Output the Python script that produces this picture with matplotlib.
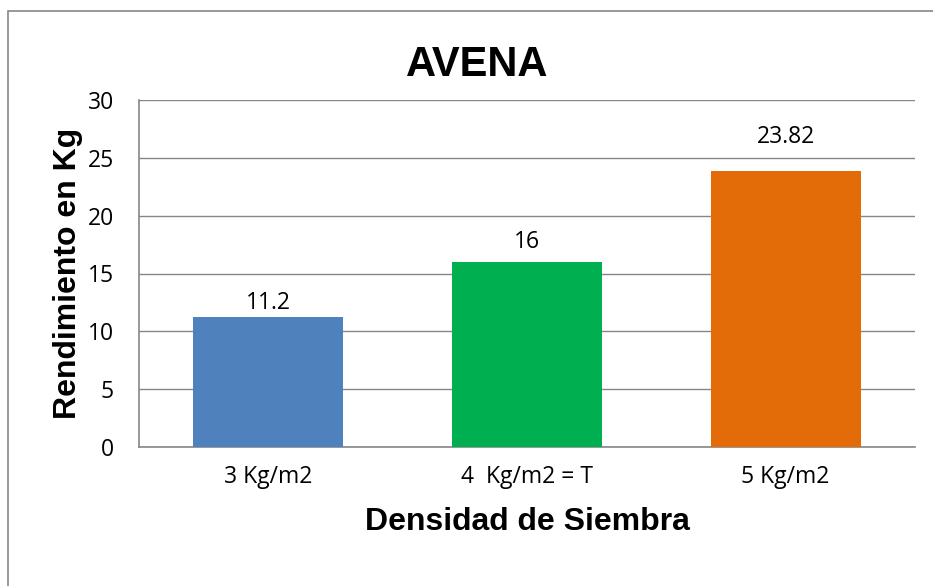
import matplotlib
matplotlib.use("Agg")
import matplotlib.pyplot as plt
from matplotlib.patches import Rectangle

# data
categorias = ["3 Kg/m2", "4  Kg/m2 = T", "5 Kg/m2"]
rendimiento = [11.2, 16, 23.82]
etiquetas = ["11.2", "16", "23.82"]
colores = ["#4F81BD", "#00B050", "#E36C09"]
yticks = [0, 5, 10, 15, 20, 25, 30]
# label offsets above the bars (points) - the labels sit unevenly in the original
offsets = [1.5, 5.5, 16.5]

fig = plt.figure(figsize=(9.33, 5.86), dpi=100)
ax = fig.add_axes([139 / 933, 1 - 447 / 586, (915 - 139) / 933, (447 - 100) / 586])

x = range(len(categorias))
bars = ax.bar(x, rendimiento, width=0.58, color=colores, zorder=3)

tick_font = "Open Sans"
for b, lab, off in zip(bars, etiquetas, offsets):
    ax.annotate(lab, (b.get_x() + b.get_width() / 2, b.get_height()),
                xytext=(0, off), textcoords="offset points",
                ha="center", va="bottom", fontsize=16.5, family=tick_font)

ax.set_xlim(-0.5, 2.5)
ax.set_ylim(0, 30)
ax.set_yticks(yticks)
ax.set_yticklabels([str(t) for t in yticks], fontsize=16.5, family=tick_font)
ax.set_xticks(list(x))
ax.set_xticklabels(categorias, fontsize=16.5, family=tick_font)
ax.tick_params(axis="x", length=0, pad=13)
ax.tick_params(axis="y", length=0, pad=18)

ax.grid(axis="y", color="#868686", linewidth=1.0, zorder=0)
for s in ["top", "right"]:
    ax.spines[s].set_visible(False)
for s in ["left", "bottom"]:
    ax.spines[s].set_color("#868686")
    ax.spines[s].set_linewidth(1.2)

fig.text(477 / 933, 1 - 65 / 586, "AVENA", fontsize=30, fontweight="bold",
         family="Liberation Sans", ha="center", va="center")
ax.set_xlabel("Densidad de Siembra", fontsize=23, fontweight="bold",
              family="Liberation Sans")
ax.set_ylabel("Rendimiento en Kg", fontsize=23, fontweight="bold",
              family="Liberation Sans")
ax.xaxis.set_label_coords(0.5, (447 - 507) / 347)
ax.yaxis.set_label_coords((83 - 139) / 776, 0.5)

# outer chart border (right and bottom edges fall outside the image)
fig.patches.append(Rectangle((8 / 933, -0.1), 1.2, 1 - 11 / 586 + 0.1,
                             transform=fig.transFigure, fill=False,
                             edgecolor="#868686", linewidth=1.2))

fig.savefig("out.png", dpi=100)
